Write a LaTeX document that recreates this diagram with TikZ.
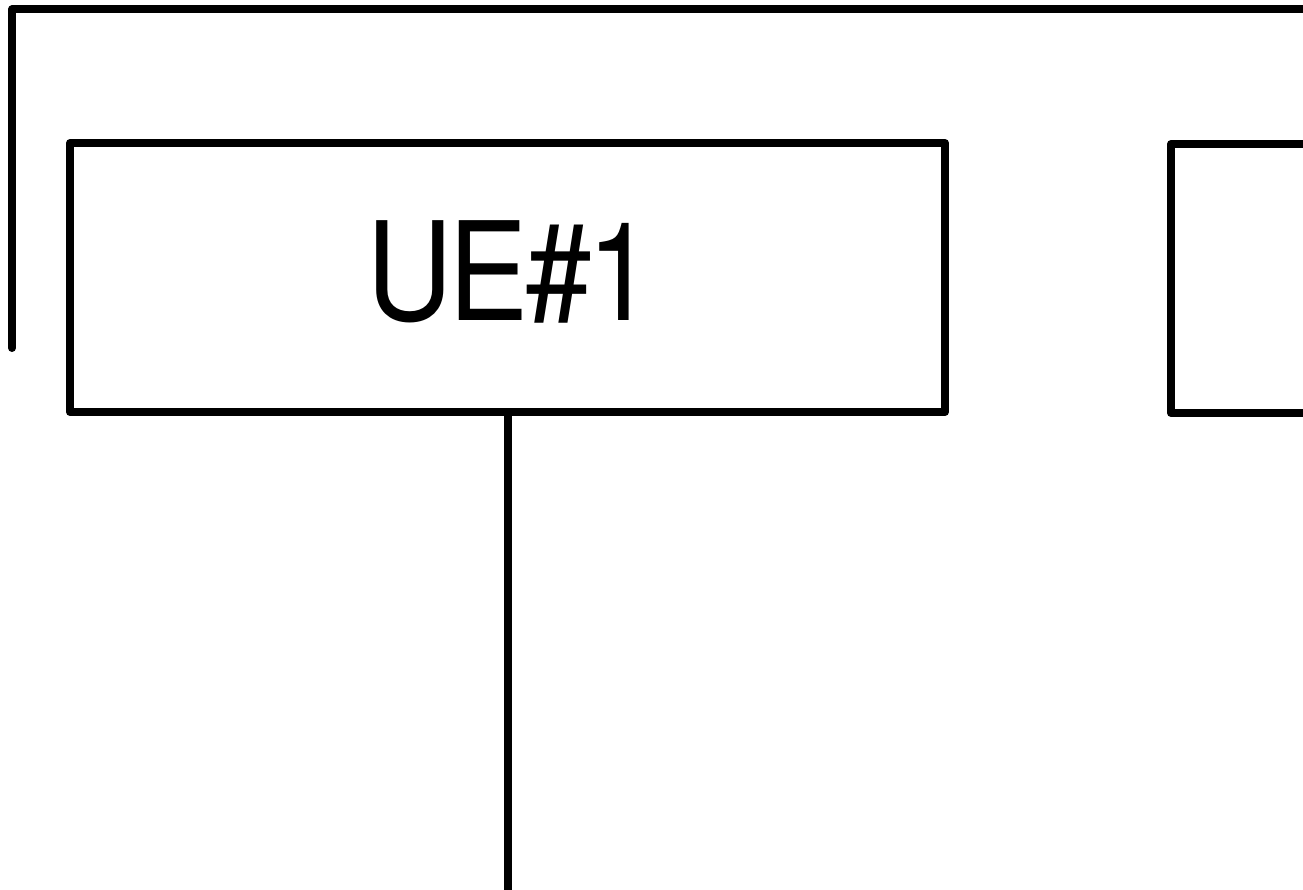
\documentclass[tikz,border=0pt]{standalone}
\usepackage{fontspec}
\setmainfont{TeX Gyre Heros}
\begin{document}
\begin{tikzpicture}[x=1pt,y=-1pt,
  thickline/.style={line width=8pt,line join=round,line cap=round},
  uebox/.style={thickline,draw,rectangle,inner sep=0pt,minimum width=875pt,minimum height=269pt}]
\useasboundingbox (0,0) rectangle (1303,890);
\draw[thickline] (12,348) -- (12,9.5) -- (1310,9.5);
\node[uebox] (ue1) at (507.5,277.5) {};
\node[anchor=base west,inner sep=0pt,font=\fontsize{137}{137}\selectfont] (ue1label) at (366,320) {\scalebox{0.875}[1]{U\kern-5.1pt E\kern-2.8pt\#\kern-6pt 1}};
\coordinate (lineend) at (508,900);
\draw[thickline,line cap=butt] (ue1.south -| lineend) -- (lineend);
\draw[thickline] (1310,144) -- (1171,144) -- (1171,413) -- (1310,413);
\end{tikzpicture}
\end{document}
